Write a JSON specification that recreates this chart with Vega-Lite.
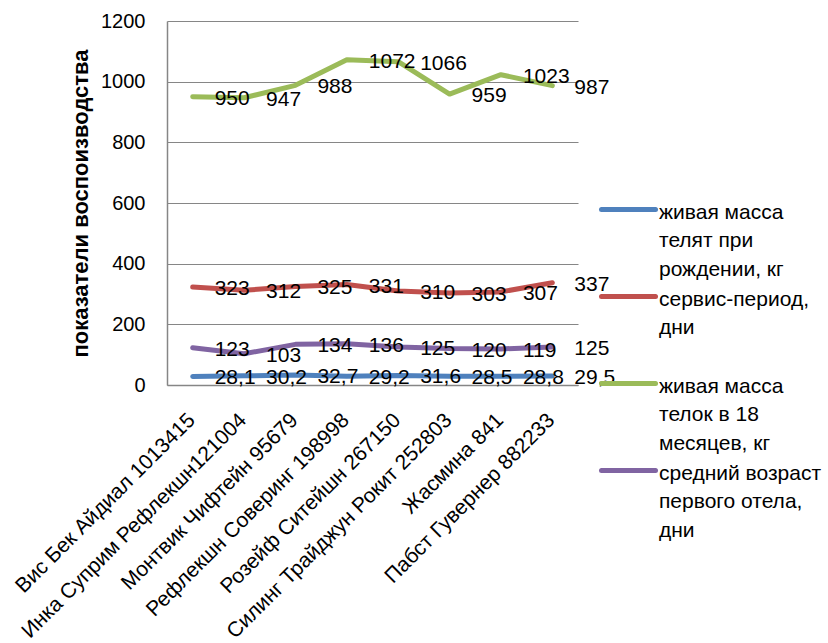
{
  "$schema": "https://vega.github.io/schema/vega-lite/v6.json",
  "autosize": "none",
  "padding": {"left": 167, "top": 21, "right": 250, "bottom": 258},
  "width": 411,
  "height": 364,
  "background": "white",
  "config": {
    "locale": {"number": {"decimal": ",", "thousands": " ", "grouping": [3], "currency": ["", ""]}},
    "font": "Liberation Sans",
    "view": {"stroke": null}
  },
  "data": {
    "values": [
      {"cat": "Вис Бек Айдиал 1013415", "series": "живая масса телят при рождении, кг", "value": 28.1},
      {"cat": "Инка Суприм Рефлекшн121004", "series": "живая масса телят при рождении, кг", "value": 30.2},
      {"cat": "Монтвик Чифтейн 95679", "series": "живая масса телят при рождении, кг", "value": 32.7},
      {"cat": "Рефлекшн Соверинг 198998", "series": "живая масса телят при рождении, кг", "value": 29.2},
      {"cat": "Розейф Ситейшн 267150", "series": "живая масса телят при рождении, кг", "value": 31.6},
      {"cat": "Силинг Трайджун Рокит 252803", "series": "живая масса телят при рождении, кг", "value": 28.5},
      {"cat": "Жасмина 841", "series": "живая масса телят при рождении, кг", "value": 28.8},
      {"cat": "Пабст Гувернер 882233", "series": "живая масса телят при рождении, кг", "value": 29.5},
      {"cat": "Вис Бек Айдиал 1013415", "series": "сервис-период, дни", "value": 323},
      {"cat": "Инка Суприм Рефлекшн121004", "series": "сервис-период, дни", "value": 312},
      {"cat": "Монтвик Чифтейн 95679", "series": "сервис-период, дни", "value": 325},
      {"cat": "Рефлекшн Соверинг 198998", "series": "сервис-период, дни", "value": 331},
      {"cat": "Розейф Ситейшн 267150", "series": "сервис-период, дни", "value": 310},
      {"cat": "Силинг Трайджун Рокит 252803", "series": "сервис-период, дни", "value": 303},
      {"cat": "Жасмина 841", "series": "сервис-период, дни", "value": 307},
      {"cat": "Пабст Гувернер 882233", "series": "сервис-период, дни", "value": 337},
      {"cat": "Вис Бек Айдиал 1013415", "series": "живая масса телок в 18 месяцев, кг", "value": 950},
      {"cat": "Инка Суприм Рефлекшн121004", "series": "живая масса телок в 18 месяцев, кг", "value": 947},
      {"cat": "Монтвик Чифтейн 95679", "series": "живая масса телок в 18 месяцев, кг", "value": 988},
      {"cat": "Рефлекшн Соверинг 198998", "series": "живая масса телок в 18 месяцев, кг", "value": 1072},
      {"cat": "Розейф Ситейшн 267150", "series": "живая масса телок в 18 месяцев, кг", "value": 1066},
      {"cat": "Силинг Трайджун Рокит 252803", "series": "живая масса телок в 18 месяцев, кг", "value": 959},
      {"cat": "Жасмина 841", "series": "живая масса телок в 18 месяцев, кг", "value": 1023},
      {"cat": "Пабст Гувернер 882233", "series": "живая масса телок в 18 месяцев, кг", "value": 987},
      {"cat": "Вис Бек Айдиал 1013415", "series": "средний возраст первого отела, дни", "value": 123},
      {"cat": "Инка Суприм Рефлекшн121004", "series": "средний возраст первого отела, дни", "value": 103},
      {"cat": "Монтвик Чифтейн 95679", "series": "средний возраст первого отела, дни", "value": 134},
      {"cat": "Рефлекшн Соверинг 198998", "series": "средний возраст первого отела, дни", "value": 136},
      {"cat": "Розейф Ситейшн 267150", "series": "средний возраст первого отела, дни", "value": 125},
      {"cat": "Силинг Трайджун Рокит 252803", "series": "средний возраст первого отела, дни", "value": 120},
      {"cat": "Жасмина 841", "series": "средний возраст первого отела, дни", "value": 119},
      {"cat": "Пабст Гувернер 882233", "series": "средний возраст первого отела, дни", "value": 125}
    ]
  },
  "encoding": {
    "x": {
      "field": "cat", "type": "nominal", "sort": null, "title": null,
      "scale": {"type": "point", "padding": 0.5},
      "axis": {
        "labelAngle": -45, "labelAlign": "right", "labelBaseline": "top",
        "labelFont": "Liberation Sans", "labelFontSize": 21, "labelColor": "black",
        "labelPadding": 24, "labelOffset": -9, "labelLimit": 400, "ticks": false,
        "domainColor": "#868686", "domainWidth": 1.5, "grid": false
      }
    },
    "y": {
      "field": "value", "type": "quantitative", "title": "показатели воспоизводства",
      "scale": {"domain": [0, 1200], "nice": false, "zero": true},
      "axis": {
        "values": [0, 200, 400, 600, 800, 1000, 1200], "format": "d",
        "labelFont": "Liberation Sans", "labelFontSize": 20, "labelColor": "black",
        "labelPadding": 22, "ticks": false,
        "domainColor": "#868686", "domainWidth": 1.5,
        "gridColor": "#868686", "gridWidth": 1.2,
        "titleFont": "Liberation Sans", "titleFontSize": 22, "titleFontWeight": "bold",
        "titleColor": "black", "titlePadding": 8
      }
    }
  },
  "layer": [
    {
      "mark": {"type": "line", "strokeWidth": 5, "strokeCap": "round", "strokeJoin": "round"},
      "encoding": {
        "color": {
          "field": "series", "type": "nominal", "title": null,
          "scale": {
            "domain": ["живая масса телят при рождении, кг", "сервис-период, дни", "живая масса телок в 18 месяцев, кг", "средний возраст первого отела, дни"],
            "range": ["#4F81BD", "#C0504D", "#9BBB59", "#8064A2"]
          },
          "legend": {
            "orient": "none", "legendX": 451, "legendY": 178,
            "symbolType": "M-5.4,0H5.4", "symbolSize": 100, "symbolStrokeWidth": 5,
            "labelFont": "Liberation Sans", "labelFontSize": 21, "labelColor": "black",
            "labelLimit": 400, "labelOffset": 20, "labelBaseline": "middle", "rowPadding": 6,
            "labelExpr": "datum.label == 'живая масса телят при рождении, кг' ? ['живая масса', 'телят при', 'рождении, кг'] : datum.label == 'сервис-период, дни' ? ['сервис-период,', 'дни', ' '] : datum.label == 'живая масса телок в 18 месяцев, кг' ? ['живая масса', 'телок в 18', 'месяцев, кг'] : ['средний возраст', 'первого отела,', 'дни']",
            "encode": {
              "labels": {"update": {"lineHeight": {"value": 28.5}, "dy": {"value": 3}}},
              "symbols": {"update": {"strokeCap": {"value": "round"}}}
            }
          }
        }
      }
    },
    {
      "mark": {"type": "text", "align": "left", "baseline": "middle", "dx": 22, "dy": 2, "font": "Liberation Sans", "fontSize": 21, "color": "black"},
      "encoding": {
        "text": {"field": "value", "type": "quantitative", "format": "~g"}
      }
    }
  ]
}
